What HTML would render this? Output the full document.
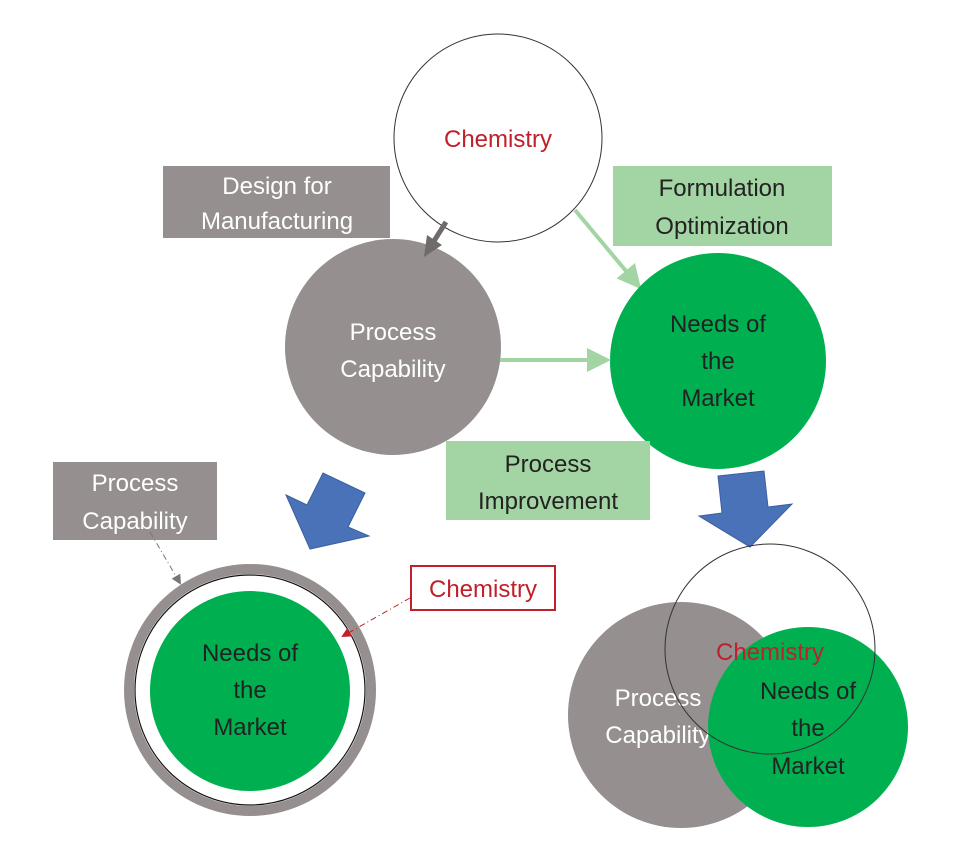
<!DOCTYPE html>
<html><head><style>
body{margin:0;background:#fff;}
svg text{font-family:"Liberation Sans",sans-serif;font-size:24px;text-anchor:middle;}
</style></head><body>
<svg width="970" height="862" viewBox="0 0 970 862" xmlns="http://www.w3.org/2000/svg">
<defs>
<marker id="ag" markerWidth="6" markerHeight="6" refX="4" refY="3" orient="auto" markerUnits="strokeWidth"><path d="M0,0L6,3L0,6z" fill="#a3d4a3"/></marker>
<marker id="as" markerWidth="10" markerHeight="10" refX="8" refY="5" orient="auto" markerUnits="userSpaceOnUse"><path d="M0,0L10,5L0,10z" fill="#777"/></marker>
<marker id="ar" markerWidth="10" markerHeight="10" refX="8" refY="5" orient="auto" markerUnits="userSpaceOnUse"><path d="M0,0L10,5L0,10z" fill="#c0202a"/></marker>
</defs>
<!-- top -->
<circle cx="498" cy="138" r="104" fill="#fff" stroke="#333" stroke-width="1"/>
<text x="498" y="147" fill="#c0202a">Chemistry</text>
<rect x="163" y="166" width="227" height="72" fill="#958f8f"/>
<text x="277" y="194" fill="#fff">Design for</text>
<text x="277" y="229" fill="#fff">Manufacturing</text>
<rect x="613" y="166" width="219" height="80" fill="#a3d4a3"/>
<text x="722" y="196" fill="#222">Formulation</text>
<text x="722" y="234" fill="#222">Optimization</text>
<line x1="575" y1="210" x2="636" y2="283" stroke="#a3d4a3" stroke-width="4" marker-end="url(#ag)"/>
<circle cx="393" cy="347" r="108" fill="#958f8f"/>
<line x1="446" y1="222" x2="434" y2="241" stroke="#6f6b6b" stroke-width="5"/>
<polygon points="424,257 427,235 442,245" fill="#6f6b6b"/>
<text x="393" y="340" fill="#fff">Process</text>
<text x="393" y="377" fill="#fff">Capability</text>
<circle cx="718" cy="361" r="108" fill="#00b050"/>
<text x="718" y="332" fill="#222">Needs of</text>
<text x="718" y="369" fill="#222">the</text>
<text x="718" y="406" fill="#222">Market</text>
<line x1="500" y1="360" x2="603" y2="360" stroke="#a3d4a3" stroke-width="4" marker-end="url(#ag)"/>
<rect x="446" y="441" width="204" height="79" fill="#a3d4a3"/>
<text x="548" y="472" fill="#222">Process</text>
<text x="548" y="509" fill="#222">Improvement</text>
<!-- blue arrows -->
<polygon points="286,495 307,505 323,473 365,493 348,527 369,536 310,549" fill="#4a72b8" stroke="#3a5f9f" stroke-width="1"/>
<polygon points="718,476 764,471 768,507 792,504 750,547 699,516 722,513" fill="#4a72b8" stroke="#3a5f9f" stroke-width="1"/>
<!-- bottom left -->
<rect x="53" y="462" width="164" height="78" fill="#958f8f"/>
<text x="135" y="491" fill="#fff">Process</text>
<text x="135" y="529" fill="#fff">Capability</text>
<circle cx="250" cy="690" r="121" fill="none" stroke="#958f8f" stroke-width="10"/>
<circle cx="250" cy="690" r="115" fill="#fff" stroke="#111" stroke-width="1.2"/>
<circle cx="250" cy="691" r="100" fill="#00b050"/>
<text x="250" y="661" fill="#222">Needs of</text>
<text x="250" y="698" fill="#222">the</text>
<text x="250" y="735" fill="#222">Market</text>
<line x1="150" y1="532" x2="180" y2="583" stroke="#777" stroke-width="1" stroke-dasharray="6,3,1,3" marker-end="url(#as)"/>
<rect x="411" y="566" width="144" height="44" fill="#fff" stroke="#c0202a" stroke-width="2"/>
<text x="483" y="597" fill="#c0202a">Chemistry</text>
<line x1="410" y1="598" x2="343" y2="636" stroke="#c0202a" stroke-width="1" stroke-dasharray="6,3,1,3" marker-end="url(#ar)"/>
<!-- bottom right -->
<circle cx="681" cy="715" r="113" fill="#958f8f"/>
<text x="658" y="706" fill="#fff">Process</text>
<text x="658" y="743" fill="#fff">Capability</text>
<circle cx="808" cy="727" r="100" fill="#00b050"/>
<text x="770" y="660" fill="#c0202a">Chemistry</text>
<text x="808" y="699" fill="#222">Needs of</text>
<text x="808" y="736" fill="#222">the</text>
<text x="808" y="774" fill="#222">Market</text>
<circle cx="770" cy="649" r="105" fill="none" stroke="#333" stroke-width="1"/>
</svg>
</body></html>
